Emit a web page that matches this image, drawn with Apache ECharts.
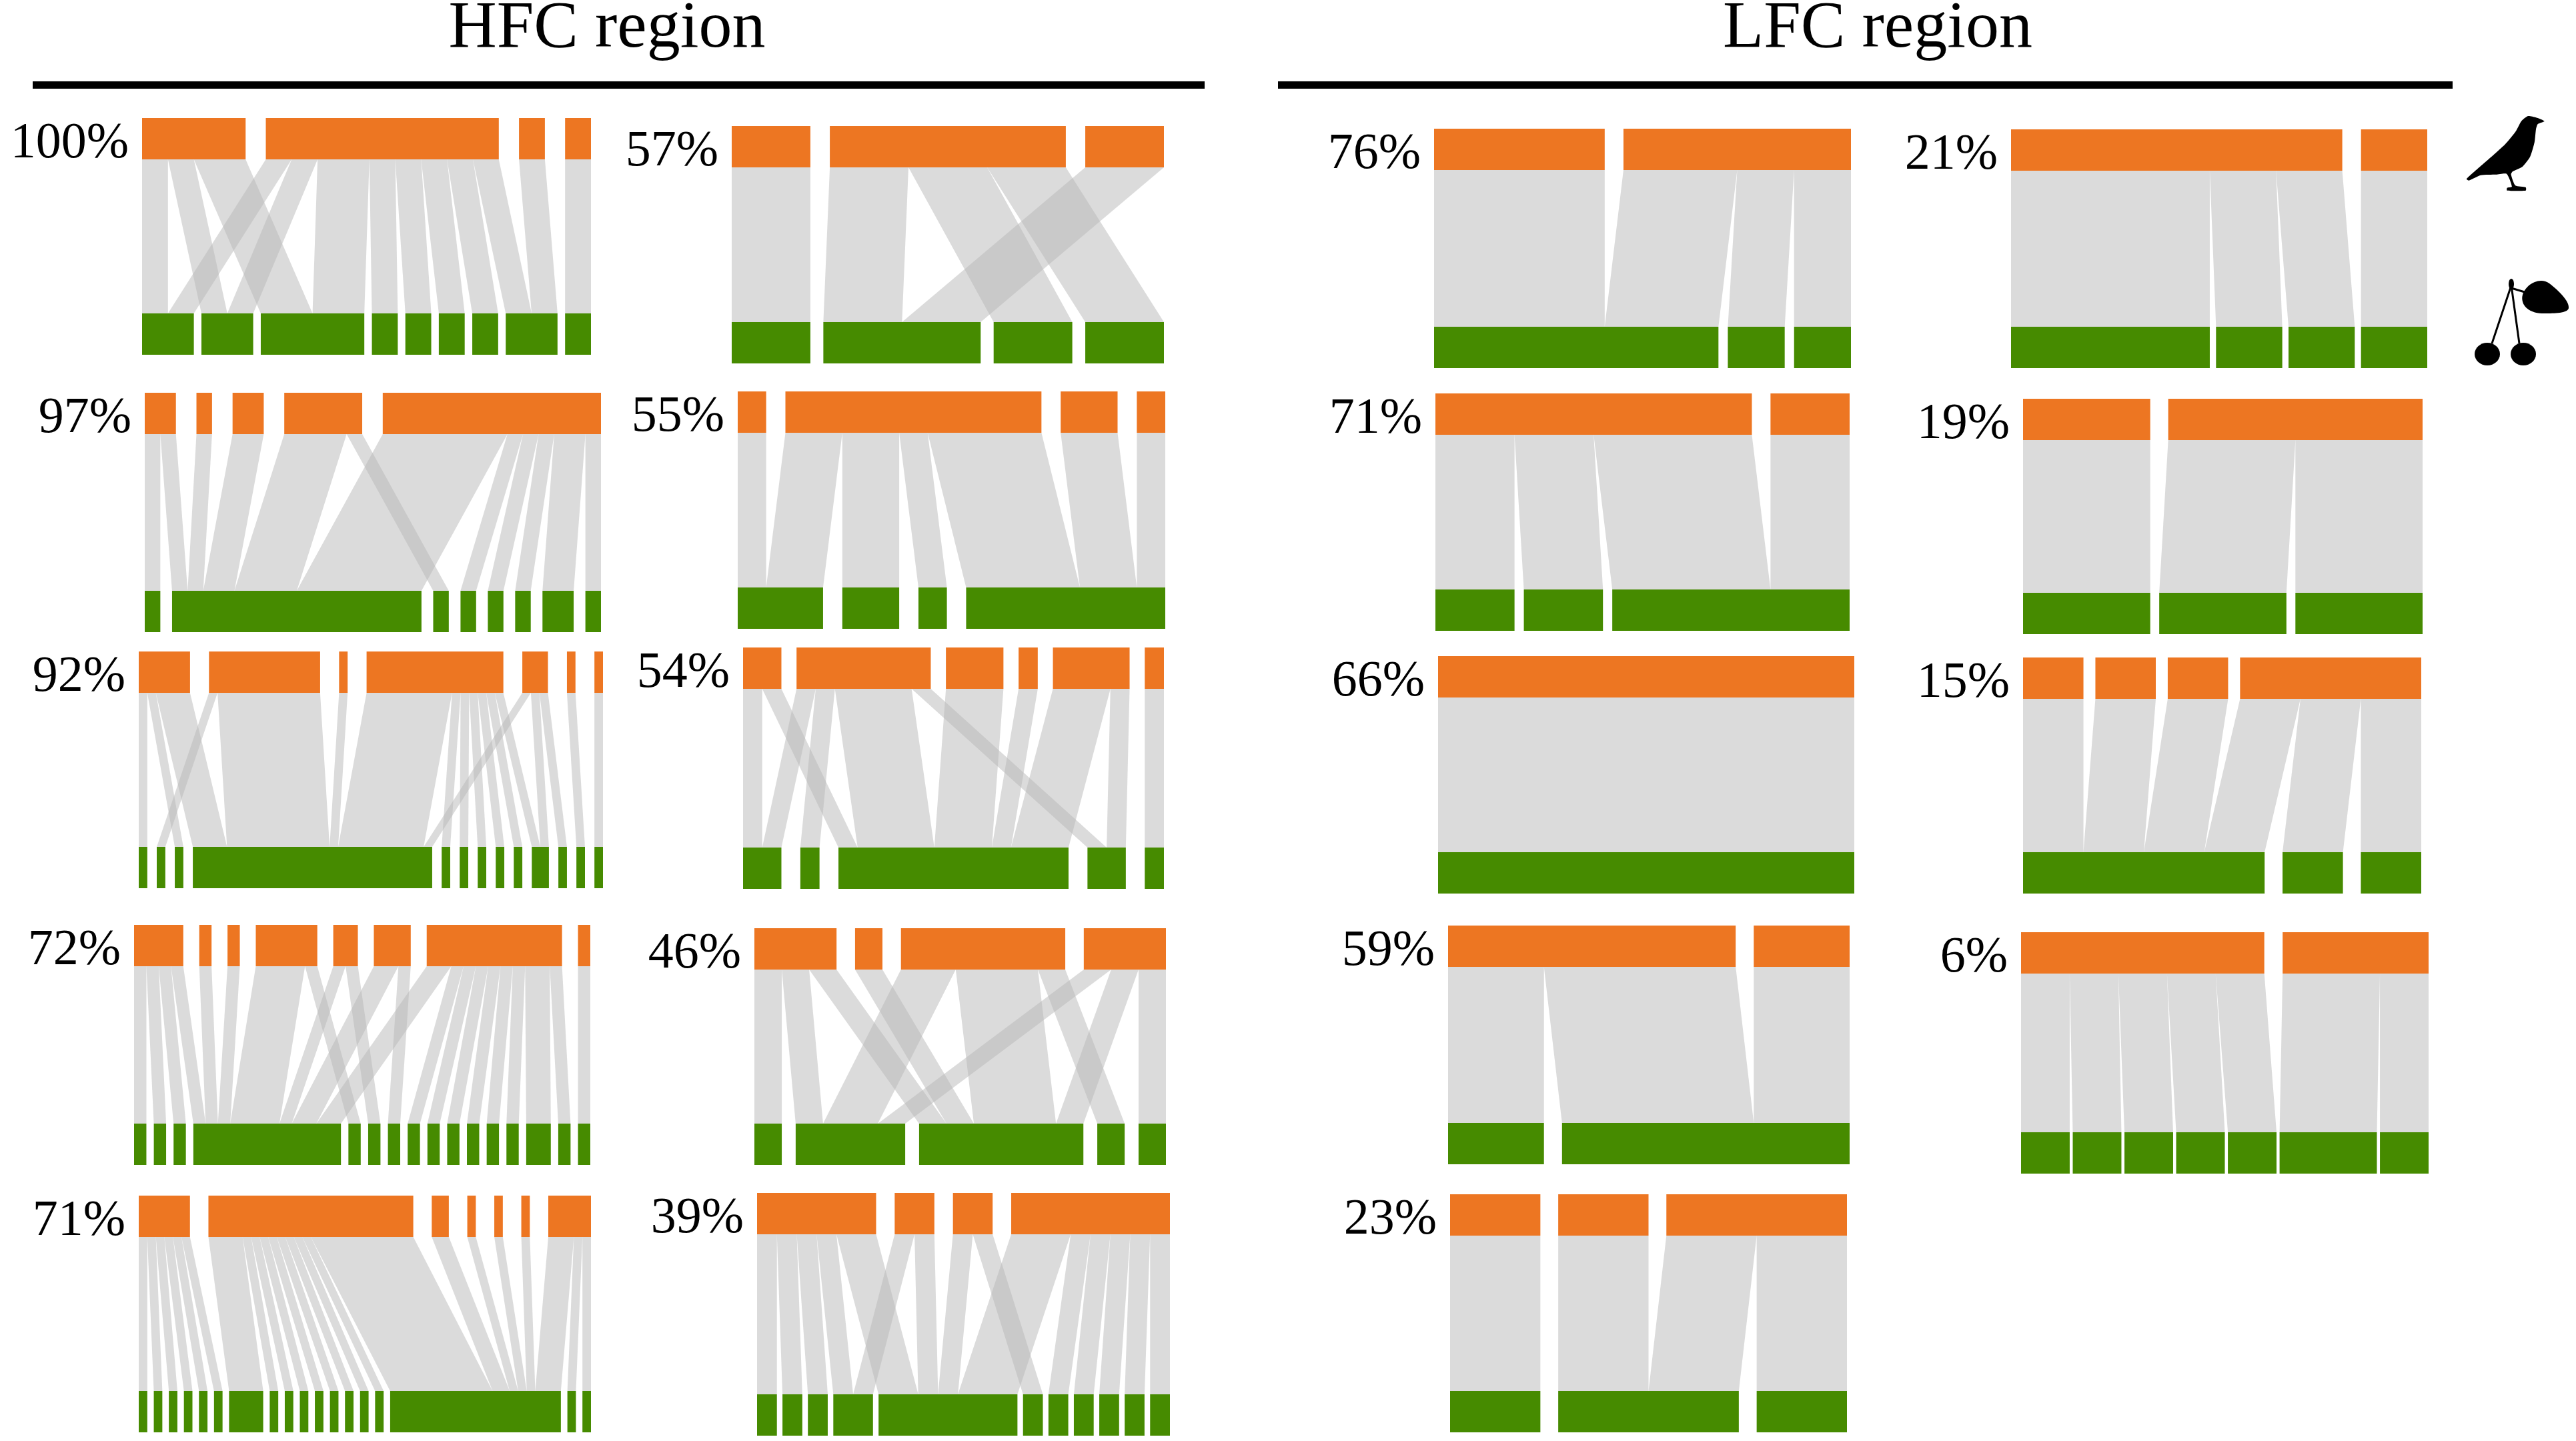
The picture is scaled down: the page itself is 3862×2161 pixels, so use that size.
<!DOCTYPE html>
<html>
<head>
<meta charset="utf-8">
<title>HFC / LFC bipartite networks</title>
<script src="https://cdn.jsdelivr.net/npm/echarts@6/dist/echarts.min.js"></script>
<style>
  html, body { margin: 0; padding: 0; background: #fff; }
  #chart { width: 3862px; height: 2161px; }
</style>
</head>
<body>
<div id="chart"></div>
<script>
// links: [bird index (top), plant index (bottom), number of interactions]
const links100 = [[0,0,1],[0,1,1],[0,2,2],[1,0,1],[1,1,1],[1,2,2],[1,3,1],[1,4,1],[1,5,1],[1,6,1],[1,7,1],[2,7,1],[3,8,1]]
const links97 = [[0,0,1],[0,1,1],[1,1,1],[2,1,2],[3,1,4],[3,2,1],[4,1,8],[4,3,1],[4,4,1],[4,5,1],[4,6,2],[4,7,1]]
const links92 = [[0,0,1],[0,2,1],[0,3,4],[1,1,1],[1,3,12],[2,3,1],[3,3,10],[3,4,1],[3,5,1],[3,6,1],[3,7,1],[3,8,1],[3,9,1],[4,3,1],[4,9,1],[4,10,1],[5,11,1],[6,12,1]]
const links72 = [[0,0,1],[0,1,1],[0,2,1],[0,3,1],[1,3,1],[2,3,1],[3,3,4],[3,4,1],[4,3,1],[4,5,1],[5,3,2],[5,6,1],[6,3,2],[6,7,1],[6,8,1],[6,9,1],[6,10,1],[6,11,1],[6,12,1],[6,13,2],[6,14,1],[7,15,1]]
const links71a = [[0,0,1],[0,1,1],[0,2,1],[0,3,1],[0,4,1],[0,5,1],[1,6,4],[1,7,1],[1,8,1],[1,9,1],[1,10,1],[1,11,1],[1,12,1],[1,13,1],[1,14,1],[1,15,12],[2,15,2],[3,15,1],[4,15,1],[5,15,1],[6,15,3],[6,16,1],[6,17,1]]
const links57 = [[0,0,1],[1,1,1],[1,2,1],[1,3,1],[2,1,1]]
const links55 = [[0,0,1],[1,0,2],[1,1,2],[1,2,1],[1,3,4],[2,3,2],[3,3,1]]
const links54 = [[0,0,1],[0,2,1],[1,0,1],[1,1,1],[1,2,4],[1,3,1],[2,2,3],[3,2,1],[4,2,3],[4,3,1],[5,4,1]]
const links46 = [[0,0,1],[0,1,1],[0,2,1],[1,2,1],[2,1,2],[2,2,3],[2,3,1],[3,1,1],[3,2,1],[3,4,1]]
const links39 = [[0,0,1],[0,1,1],[0,2,1],[0,3,1],[0,4,2],[1,3,1],[1,4,1],[2,4,1],[2,5,1],[3,4,3],[3,6,1],[3,7,1],[3,8,1],[3,9,1],[3,10,1]]
const links76 = [[0,0,3],[1,0,2],[1,1,1],[1,2,1]]
const links71b = [[0,0,1],[0,1,1],[0,2,2],[1,2,1]]
const links66 = [[0,0,1]]
const links59 = [[0,0,1],[0,1,2],[1,1,1]]
const links23 = [[0,0,1],[1,1,1],[2,1,1],[2,2,1]]
const links21 = [[0,0,3],[0,1,1],[0,2,1],[1,3,1]]
const links19 = [[0,0,1],[1,1,1],[1,2,1]]
const links15 = [[0,0,1],[1,0,1],[2,0,1],[3,0,1],[3,1,1],[3,2,1]]
const links6 = [[0,0,1],[0,1,1],[0,2,1],[0,3,1],[0,4,1],[1,5,2],[1,6,1]]

const panelLabels = ['100%', '97%', '92%', '72%', '71%', '57%', '55%', '54%', '46%', '39%',
  '76%', '71%', '66%', '59%', '23%', '21%', '19%', '15%', '6%']
const panelLinks = [links100, links97, links92, links72, links71a, links57, links55, links54, links46, links39,
  links76, links71b, links66, links59, links23, links21, links19, links15, links6]
const regionTitles = ['HFC region', 'LFC region']

// panel boxes in pixels: left, top, width, height
const panelBoxes = [
  [213, 177, 673, 355], [217, 589, 684, 359], [208, 977, 696, 355], [201, 1387, 684, 360], [208, 1793, 678, 355],
  [1097, 189, 648, 356], [1106, 587, 641, 356], [1114, 971, 631, 362], [1131, 1392, 617, 355], [1135, 1789, 619, 364],
  [2150, 193, 625, 359], [2152, 590, 621, 356], [2156, 984, 624, 356], [2171, 1388, 602, 358], [2174, 1791, 595, 357],
  [3015, 194, 624, 358], [3033, 598, 599, 353], [3033, 986, 597, 354], [3030, 1398, 611, 362]
]

const ORANGE = '#ED7622'
const GREEN = '#468B00'
const LINK = 'rgba(184,184,184,0.5)'
const BAR_H = 62
const FONT = '"Liberation Serif", "Times New Roman", serif'

// plotweb-like layout: both levels share the same width, links stacked inside the boxes
function layoutPanel(links) {
  let nTop = 0, nBot = 0, total = 0
  links.forEach(l => { nTop = Math.max(nTop, l[0] + 1); nBot = Math.max(nBot, l[1] + 1); total += l[2] })
  const topSum = new Array(nTop).fill(0)
  const botSum = new Array(nBot).fill(0)
  links.forEach(l => { topSum[l[0]] += l[2]; botSum[l[1]] += l[2] })
  const gapTotal = Math.min(0.245, 0.045 * (Math.min(nTop, nBot) - 1))
  const k = (1 - gapTotal) / total
  const topGap = nTop > 1 ? gapTotal / (nTop - 1) : 0
  const botGap = nBot > 1 ? gapTotal / (nBot - 1) : 0
  const topStart = [], botStart = []
  let x = 0
  topSum.forEach(s => { topStart.push(x); x += s * k + topGap })
  x = 0
  botSum.forEach(s => { botStart.push(x); x += s * k + botGap })

  const topPos = {}, botPos = {}
  const topCur = topStart.slice(), botCur = botStart.slice()
  links.map((l, i) => i).sort((a, b) => links[a][0] - links[b][0] || links[a][1] - links[b][1]).forEach(i => {
    topPos[i] = topCur[links[i][0]]; topCur[links[i][0]] += links[i][2] * k
  })
  links.map((l, i) => i).sort((a, b) => links[a][1] - links[b][1] || links[a][0] - links[b][0]).forEach(i => {
    botPos[i] = botCur[links[i][1]]; botCur[links[i][1]] += links[i][2] * k
  })

  const items = []
  links.forEach((l, i) => {
    const w = l[2] * k
    items.push([0, topPos[i], topPos[i] + w, botPos[i], botPos[i] + w])
  })
  topSum.forEach((s, i) => items.push([1, topStart[i], topStart[i] + s * k, 0, 0]))
  botSum.forEach((s, i) => items.push([2, botStart[i], botStart[i] + s * k, 0, 0]))
  items.push([3, 0, 0, 0, 0])
  return items
}

function makeRenderer(label) {
  return function (params, api) {
    const kind = api.value(0)
    if (kind === 0) {
      const a = api.coord([api.value(1), 1])
      const b = api.coord([api.value(2), 1])
      const c = api.coord([api.value(4), 0])
      const d = api.coord([api.value(3), 0])
      return {
        type: 'polygon', z2: 1,
        shape: { points: [[a[0], a[1] + BAR_H], [b[0], b[1] + BAR_H], [c[0], c[1] - BAR_H], [d[0], d[1] - BAR_H]] },
        style: { fill: LINK }
      }
    }
    if (kind === 1 || kind === 2) {
      const yv = kind === 1 ? 1 : 0
      const p0 = api.coord([api.value(1), yv])
      const p1 = api.coord([api.value(2), yv])
      return {
        type: 'rect', z2: 2,
        shape: { x: p0[0], y: kind === 1 ? p0[1] : p0[1] - BAR_H, width: p1[0] - p0[0], height: BAR_H },
        style: { fill: kind === 1 ? ORANGE : GREEN }
      }
    }
    const p = api.coord([0, 1])
    return {
      type: 'text', z2: 3,
      style: {
        text: label, x: p[0] - 20, y: p[1] + BAR_H / 2 + 8,
        font: '76px ' + FONT, fill: '#000',
        align: 'right', verticalAlign: 'middle'
      }
    }
  }
}

const grids = [], xAxes = [], yAxes = [], series = []
panelLinks.forEach((links, i) => {
  const box = panelBoxes[i]
  grids.push({ left: box[0], top: box[1], width: box[2], height: box[3] })
  xAxes.push({ type: 'value', gridIndex: i, min: 0, max: 1, show: false })
  yAxes.push({ type: 'value', gridIndex: i, min: 0, max: 1, show: false })
  series.push({
    type: 'custom', xAxisIndex: i, yAxisIndex: i, clip: false, silent: true,
    renderItem: makeRenderer(panelLabels[i]),
    data: layoutPanel(links)
  })
})

// bird and cherry silhouettes (decoration)
const birdPts = [[115,355],[200,280],[290,200],[340,140],[365,95],[395,72],[430,78],[470,95],[440,108],[432,130],
  [425,190],[405,255],[370,300],[325,322],[318,335],[338,385],[385,393],[385,407],[300,407],[300,395],[322,390],
  [298,332],[250,335],[180,338],[125,362]].map(p => [3660 + p[0] / 3.04, 150 + p[1] / 3])

const graphics = [
  { type: 'text', x: 910, y: 44, style: { text: regionTitles[0], font: '100px ' + FONT, fill: '#000', align: 'center', verticalAlign: 'middle' } },
  { type: 'text', x: 2815, y: 44, style: { text: regionTitles[1], font: '100px ' + FONT, fill: '#000', align: 'center', verticalAlign: 'middle' } },
  { type: 'rect', shape: { x: 49, y: 122, width: 1757, height: 11 }, style: { fill: '#000' } },
  { type: 'rect', shape: { x: 1916, y: 122, width: 1761, height: 11 }, style: { fill: '#000' } },
  { type: 'polygon', shape: { points: birdPts, smooth: 0.2 }, style: { fill: '#000' } },
  { type: 'line', shape: { x1: 3765, y1: 428, x2: 3736, y2: 515 }, style: { stroke: '#000', lineWidth: 3 } },
  { type: 'line', shape: { x1: 3765, y1: 428, x2: 3777, y2: 515 }, style: { stroke: '#000', lineWidth: 3 } },
  { type: 'line', shape: { x1: 3765, y1: 432, x2: 3785, y2: 438 }, style: { stroke: '#000', lineWidth: 3 } },
  { type: 'ellipse', shape: { cx: 3765, cy: 426, rx: 4, ry: 8 }, style: { fill: '#000' } },
  { type: 'ellipse', shape: { cx: 3729, cy: 531, rx: 19, ry: 17 }, style: { fill: '#000' } },
  { type: 'ellipse', shape: { cx: 3783, cy: 531, rx: 19, ry: 17 }, style: { fill: '#000' } },
  { type: 'polygon', shape: { points: [[3782, 442], [3800, 423], [3822, 425], [3851, 462], [3815, 470], [3788, 462]], smooth: 0.4 }, style: { fill: '#000' } }
]

const myChart = echarts.init(document.getElementById('chart'))
myChart.setOption({
  backgroundColor: '#fff',
  animation: false,
  grid: grids,
  xAxis: xAxes,
  yAxis: yAxes,
  graphic: graphics,
  series: series
})
</script>
</body>
</html>
